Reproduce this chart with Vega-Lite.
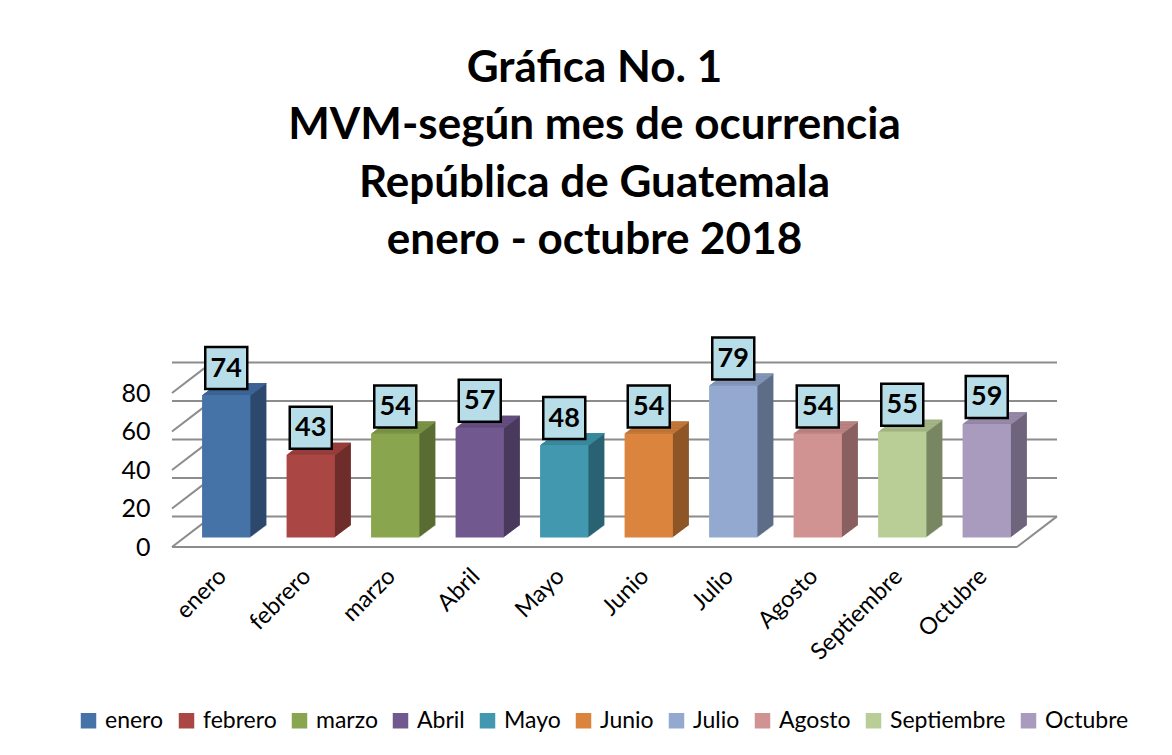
{
"$schema":"https://vega.github.io/schema/vega-lite/v6.json",
"width":845,"height":154,
"autosize":{"type":"none"},
"padding":{"left":172,"top":393,"right":155,"bottom":208},
"background":"white",
"title":{"text":["Gráfica No. 1","MVM-según mes de ocurrencia","República de Guatemala","enero - octubre 2018"],"font":"Lato","fontSize":44,"fontWeight":"bold","color":"black","lineHeight":57.5,"anchor":"middle","offset":69,"dx":0},
"datasets":{
"meses":[{"mes":"enero","valor":74},{"mes":"febrero","valor":43},{"mes":"marzo","valor":54},{"mes":"Abril","valor":57},{"mes":"Mayo","valor":48},{"mes":"Junio","valor":54},{"mes":"Julio","valor":79},{"mes":"Agosto","valor":54},{"mes":"Septiembre","valor":55},{"mes":"Octubre","valor":59}],
"ticks":[{"t":0},{"t":20},{"t":40},{"t":60},{"t":80}]
},
"data":{"name":"meses"},
"resolve":{"scale":{"color":"independent"}},
"layer":[
{"data":{"name":"ticks"},"mark":{"type":"rule","color":"#8C8C8C","strokeWidth":2,"xOffset":40,"x2Offset":40,"yOffset":-30.6},"encoding":{"y":{"field":"t","type":"quantitative","title":null}}},
{"data":{"name":"ticks"},"mark":{"type":"rule","color":"#8C8C8C","strokeWidth":2,"x2Offset":40,"y2Offset":-30.6},"encoding":{"x":{"value":0},"x2":{"value":0},"y":{"field":"t","type":"quantitative","title":null},"y2":{"field":"t"}}},
{"data":{"name":"ticks"},"transform":[{"filter":"datum.t == 0"}],"mark":{"type":"rule","color":"#8C8C8C","strokeWidth":2},"encoding":{"y":{"field":"t","type":"quantitative","title":null}}},
{"data":{"name":"ticks"},"transform":[{"filter":"datum.t == 0"}],"mark":{"type":"rule","color":"#8C8C8C","strokeWidth":2,"x2Offset":40,"y2Offset":-30.6},"encoding":{"x":{"value":"width"},"x2":{"value":"width"},"y":{"field":"t","type":"quantitative","title":null},"y2":{"field":"t"}}},

{"mark":{"type":"bar","xOffset":28,"x2Offset":28,"yOffset":-21.5,"y2Offset":-21.5},"encoding":{"x":{"field":"mes","type":"nominal","sort":null,"title":null,"scale":{"paddingInner":0.428,"paddingOuter":0.214}},"y":{"field":"valor","type":"quantitative","title":null,"scale":{"domain":[0,80],"nice":false}},"color":{"field":"mes","type":"nominal","sort":null,"legend":null,"scale":{"range":["#2D4A6E","#6F2D2B","#5A6D33","#4A3A5E","#2A6473","#8F5628","#5F6E88","#896060","#798662","#6F657C"]}}}},
{"mark":{"type":"bar","xOffset":27,"x2Offset":27,"yOffset":-20.75,"y2Offset":-20.75},"encoding":{"x":{"field":"mes","type":"nominal","sort":null,"title":null},"y":{"field":"valor","type":"quantitative","title":null},"color":{"field":"mes","type":"nominal","sort":null,"legend":null,"scale":{"range":["#2D4A6E","#6F2D2B","#5A6D33","#4A3A5E","#2A6473","#8F5628","#5F6E88","#896060","#798662","#6F657C"]}}}},
{"mark":{"type":"bar","xOffset":26,"x2Offset":26,"yOffset":-20,"y2Offset":-20},"encoding":{"x":{"field":"mes","type":"nominal","sort":null,"title":null},"y":{"field":"valor","type":"quantitative","title":null},"color":{"field":"mes","type":"nominal","sort":null,"legend":null,"scale":{"range":["#2D4A6E","#6F2D2B","#5A6D33","#4A3A5E","#2A6473","#8F5628","#5F6E88","#896060","#798662","#6F657C"]}}}},
{"mark":{"type":"bar","xOffset":25,"x2Offset":25,"yOffset":-19.25,"y2Offset":-19.25},"encoding":{"x":{"field":"mes","type":"nominal","sort":null,"title":null},"y":{"field":"valor","type":"quantitative","title":null},"color":{"field":"mes","type":"nominal","sort":null,"legend":null,"scale":{"range":["#2D4A6E","#6F2D2B","#5A6D33","#4A3A5E","#2A6473","#8F5628","#5F6E88","#896060","#798662","#6F657C"]}}}},
{"mark":{"type":"bar","xOffset":24,"x2Offset":24,"yOffset":-18.5,"y2Offset":-18.5},"encoding":{"x":{"field":"mes","type":"nominal","sort":null,"title":null},"y":{"field":"valor","type":"quantitative","title":null},"color":{"field":"mes","type":"nominal","sort":null,"legend":null,"scale":{"range":["#2D4A6E","#6F2D2B","#5A6D33","#4A3A5E","#2A6473","#8F5628","#5F6E88","#896060","#798662","#6F657C"]}}}},
{"mark":{"type":"bar","xOffset":23,"x2Offset":23,"yOffset":-17.75,"y2Offset":-17.75},"encoding":{"x":{"field":"mes","type":"nominal","sort":null,"title":null},"y":{"field":"valor","type":"quantitative","title":null},"color":{"field":"mes","type":"nominal","sort":null,"legend":null,"scale":{"range":["#2D4A6E","#6F2D2B","#5A6D33","#4A3A5E","#2A6473","#8F5628","#5F6E88","#896060","#798662","#6F657C"]}}}},
{"mark":{"type":"bar","xOffset":22,"x2Offset":22,"yOffset":-17,"y2Offset":-17},"encoding":{"x":{"field":"mes","type":"nominal","sort":null,"title":null},"y":{"field":"valor","type":"quantitative","title":null},"color":{"field":"mes","type":"nominal","sort":null,"legend":null,"scale":{"range":["#2D4A6E","#6F2D2B","#5A6D33","#4A3A5E","#2A6473","#8F5628","#5F6E88","#896060","#798662","#6F657C"]}}}},
{"mark":{"type":"bar","xOffset":21,"x2Offset":21,"yOffset":-16.25,"y2Offset":-16.25},"encoding":{"x":{"field":"mes","type":"nominal","sort":null,"title":null},"y":{"field":"valor","type":"quantitative","title":null},"color":{"field":"mes","type":"nominal","sort":null,"legend":null,"scale":{"range":["#2D4A6E","#6F2D2B","#5A6D33","#4A3A5E","#2A6473","#8F5628","#5F6E88","#896060","#798662","#6F657C"]}}}},
{"mark":{"type":"bar","xOffset":20,"x2Offset":20,"yOffset":-15.5,"y2Offset":-15.5},"encoding":{"x":{"field":"mes","type":"nominal","sort":null,"title":null},"y":{"field":"valor","type":"quantitative","title":null},"color":{"field":"mes","type":"nominal","sort":null,"legend":null,"scale":{"range":["#2D4A6E","#6F2D2B","#5A6D33","#4A3A5E","#2A6473","#8F5628","#5F6E88","#896060","#798662","#6F657C"]}}}},
{"mark":{"type":"bar","xOffset":19,"x2Offset":19,"yOffset":-14.75,"y2Offset":-14.75},"encoding":{"x":{"field":"mes","type":"nominal","sort":null,"title":null},"y":{"field":"valor","type":"quantitative","title":null},"color":{"field":"mes","type":"nominal","sort":null,"legend":null,"scale":{"range":["#2D4A6E","#6F2D2B","#5A6D33","#4A3A5E","#2A6473","#8F5628","#5F6E88","#896060","#798662","#6F657C"]}}}},
{"mark":{"type":"bar","xOffset":18,"x2Offset":18,"yOffset":-14,"y2Offset":-14},"encoding":{"x":{"field":"mes","type":"nominal","sort":null,"title":null},"y":{"field":"valor","type":"quantitative","title":null},"color":{"field":"mes","type":"nominal","sort":null,"legend":null,"scale":{"range":["#2D4A6E","#6F2D2B","#5A6D33","#4A3A5E","#2A6473","#8F5628","#5F6E88","#896060","#798662","#6F657C"]}}}},
{"mark":{"type":"bar","xOffset":17,"x2Offset":17,"yOffset":-13.25,"y2Offset":-13.25},"encoding":{"x":{"field":"mes","type":"nominal","sort":null,"title":null},"y":{"field":"valor","type":"quantitative","title":null},"color":{"field":"mes","type":"nominal","sort":null,"legend":null,"scale":{"range":["#2D4A6E","#6F2D2B","#5A6D33","#4A3A5E","#2A6473","#8F5628","#5F6E88","#896060","#798662","#6F657C"]}}}},
{"mark":{"type":"bar","xOffset":16,"x2Offset":16,"yOffset":-12.5,"y2Offset":-12.5},"encoding":{"x":{"field":"mes","type":"nominal","sort":null,"title":null},"y":{"field":"valor","type":"quantitative","title":null},"color":{"field":"mes","type":"nominal","sort":null,"legend":null,"scale":{"range":["#2D4A6E","#6F2D2B","#5A6D33","#4A3A5E","#2A6473","#8F5628","#5F6E88","#896060","#798662","#6F657C"]}}}},
{"mark":{"type":"bar","xOffset":15,"x2Offset":15,"yOffset":-11.75,"y2Offset":-11.75},"encoding":{"x":{"field":"mes","type":"nominal","sort":null,"title":null},"y":{"field":"valor","type":"quantitative","title":null},"color":{"field":"mes","type":"nominal","sort":null,"legend":null,"scale":{"range":["#2D4A6E","#6F2D2B","#5A6D33","#4A3A5E","#2A6473","#8F5628","#5F6E88","#896060","#798662","#6F657C"]}}}},
{"mark":{"type":"bar","xOffset":14,"x2Offset":14,"yOffset":-11,"y2Offset":-11},"encoding":{"x":{"field":"mes","type":"nominal","sort":null,"title":null},"y":{"field":"valor","type":"quantitative","title":null},"color":{"field":"mes","type":"nominal","sort":null,"legend":null,"scale":{"range":["#2D4A6E","#6F2D2B","#5A6D33","#4A3A5E","#2A6473","#8F5628","#5F6E88","#896060","#798662","#6F657C"]}}}},
{"mark":{"type":"bar","xOffset":13,"x2Offset":13,"yOffset":-10.25,"y2Offset":-10.25},"encoding":{"x":{"field":"mes","type":"nominal","sort":null,"title":null},"y":{"field":"valor","type":"quantitative","title":null},"color":{"field":"mes","type":"nominal","sort":null,"legend":null,"scale":{"range":["#2D4A6E","#6F2D2B","#5A6D33","#4A3A5E","#2A6473","#8F5628","#5F6E88","#896060","#798662","#6F657C"]}}}},

{"mark":{"type":"bar","xOffset":13,"x2Offset":13,"yOffset":-10.25,"y2Offset":-9.2},"encoding":{"x":{"field":"mes","type":"nominal","sort":null,"title":null},"y":{"field":"valor","type":"quantitative","title":null},"y2":{"field":"valor"},"color":{"field":"mes","type":"nominal","sort":null,"legend":null,"scale":{"range":["#3E6699","#9A3F3C","#7B9446","#654F81","#3A889D","#C57737","#8497BA","#BC8483","#A7B987","#988BAA"]}}}},
{"mark":{"type":"bar","xOffset":14,"x2Offset":14,"yOffset":-11,"y2Offset":-9.95},"encoding":{"x":{"field":"mes","type":"nominal","sort":null,"title":null},"y":{"field":"valor","type":"quantitative","title":null},"y2":{"field":"valor"},"color":{"field":"mes","type":"nominal","sort":null,"legend":null,"scale":{"range":["#3E6699","#9A3F3C","#7B9446","#654F81","#3A889D","#C57737","#8497BA","#BC8483","#A7B987","#988BAA"]}}}},
{"mark":{"type":"bar","xOffset":15,"x2Offset":15,"yOffset":-11.75,"y2Offset":-10.7},"encoding":{"x":{"field":"mes","type":"nominal","sort":null,"title":null},"y":{"field":"valor","type":"quantitative","title":null},"y2":{"field":"valor"},"color":{"field":"mes","type":"nominal","sort":null,"legend":null,"scale":{"range":["#3E6699","#9A3F3C","#7B9446","#654F81","#3A889D","#C57737","#8497BA","#BC8483","#A7B987","#988BAA"]}}}},
{"mark":{"type":"bar","xOffset":16,"x2Offset":16,"yOffset":-12.5,"y2Offset":-11.45},"encoding":{"x":{"field":"mes","type":"nominal","sort":null,"title":null},"y":{"field":"valor","type":"quantitative","title":null},"y2":{"field":"valor"},"color":{"field":"mes","type":"nominal","sort":null,"legend":null,"scale":{"range":["#3E6699","#9A3F3C","#7B9446","#654F81","#3A889D","#C57737","#8497BA","#BC8483","#A7B987","#988BAA"]}}}},
{"mark":{"type":"bar","xOffset":17,"x2Offset":17,"yOffset":-13.25,"y2Offset":-12.2},"encoding":{"x":{"field":"mes","type":"nominal","sort":null,"title":null},"y":{"field":"valor","type":"quantitative","title":null},"y2":{"field":"valor"},"color":{"field":"mes","type":"nominal","sort":null,"legend":null,"scale":{"range":["#3E6699","#9A3F3C","#7B9446","#654F81","#3A889D","#C57737","#8497BA","#BC8483","#A7B987","#988BAA"]}}}},
{"mark":{"type":"bar","xOffset":18,"x2Offset":18,"yOffset":-14,"y2Offset":-12.95},"encoding":{"x":{"field":"mes","type":"nominal","sort":null,"title":null},"y":{"field":"valor","type":"quantitative","title":null},"y2":{"field":"valor"},"color":{"field":"mes","type":"nominal","sort":null,"legend":null,"scale":{"range":["#3E6699","#9A3F3C","#7B9446","#654F81","#3A889D","#C57737","#8497BA","#BC8483","#A7B987","#988BAA"]}}}},
{"mark":{"type":"bar","xOffset":19,"x2Offset":19,"yOffset":-14.75,"y2Offset":-13.7},"encoding":{"x":{"field":"mes","type":"nominal","sort":null,"title":null},"y":{"field":"valor","type":"quantitative","title":null},"y2":{"field":"valor"},"color":{"field":"mes","type":"nominal","sort":null,"legend":null,"scale":{"range":["#3E6699","#9A3F3C","#7B9446","#654F81","#3A889D","#C57737","#8497BA","#BC8483","#A7B987","#988BAA"]}}}},
{"mark":{"type":"bar","xOffset":20,"x2Offset":20,"yOffset":-15.5,"y2Offset":-14.45},"encoding":{"x":{"field":"mes","type":"nominal","sort":null,"title":null},"y":{"field":"valor","type":"quantitative","title":null},"y2":{"field":"valor"},"color":{"field":"mes","type":"nominal","sort":null,"legend":null,"scale":{"range":["#3E6699","#9A3F3C","#7B9446","#654F81","#3A889D","#C57737","#8497BA","#BC8483","#A7B987","#988BAA"]}}}},
{"mark":{"type":"bar","xOffset":21,"x2Offset":21,"yOffset":-16.25,"y2Offset":-15.2},"encoding":{"x":{"field":"mes","type":"nominal","sort":null,"title":null},"y":{"field":"valor","type":"quantitative","title":null},"y2":{"field":"valor"},"color":{"field":"mes","type":"nominal","sort":null,"legend":null,"scale":{"range":["#3E6699","#9A3F3C","#7B9446","#654F81","#3A889D","#C57737","#8497BA","#BC8483","#A7B987","#988BAA"]}}}},
{"mark":{"type":"bar","xOffset":22,"x2Offset":22,"yOffset":-17,"y2Offset":-15.95},"encoding":{"x":{"field":"mes","type":"nominal","sort":null,"title":null},"y":{"field":"valor","type":"quantitative","title":null},"y2":{"field":"valor"},"color":{"field":"mes","type":"nominal","sort":null,"legend":null,"scale":{"range":["#3E6699","#9A3F3C","#7B9446","#654F81","#3A889D","#C57737","#8497BA","#BC8483","#A7B987","#988BAA"]}}}},
{"mark":{"type":"bar","xOffset":23,"x2Offset":23,"yOffset":-17.75,"y2Offset":-16.7},"encoding":{"x":{"field":"mes","type":"nominal","sort":null,"title":null},"y":{"field":"valor","type":"quantitative","title":null},"y2":{"field":"valor"},"color":{"field":"mes","type":"nominal","sort":null,"legend":null,"scale":{"range":["#3E6699","#9A3F3C","#7B9446","#654F81","#3A889D","#C57737","#8497BA","#BC8483","#A7B987","#988BAA"]}}}},
{"mark":{"type":"bar","xOffset":24,"x2Offset":24,"yOffset":-18.5,"y2Offset":-17.45},"encoding":{"x":{"field":"mes","type":"nominal","sort":null,"title":null},"y":{"field":"valor","type":"quantitative","title":null},"y2":{"field":"valor"},"color":{"field":"mes","type":"nominal","sort":null,"legend":null,"scale":{"range":["#3E6699","#9A3F3C","#7B9446","#654F81","#3A889D","#C57737","#8497BA","#BC8483","#A7B987","#988BAA"]}}}},
{"mark":{"type":"bar","xOffset":25,"x2Offset":25,"yOffset":-19.25,"y2Offset":-18.2},"encoding":{"x":{"field":"mes","type":"nominal","sort":null,"title":null},"y":{"field":"valor","type":"quantitative","title":null},"y2":{"field":"valor"},"color":{"field":"mes","type":"nominal","sort":null,"legend":null,"scale":{"range":["#3E6699","#9A3F3C","#7B9446","#654F81","#3A889D","#C57737","#8497BA","#BC8483","#A7B987","#988BAA"]}}}},
{"mark":{"type":"bar","xOffset":26,"x2Offset":26,"yOffset":-20,"y2Offset":-18.95},"encoding":{"x":{"field":"mes","type":"nominal","sort":null,"title":null},"y":{"field":"valor","type":"quantitative","title":null},"y2":{"field":"valor"},"color":{"field":"mes","type":"nominal","sort":null,"legend":null,"scale":{"range":["#3E6699","#9A3F3C","#7B9446","#654F81","#3A889D","#C57737","#8497BA","#BC8483","#A7B987","#988BAA"]}}}},
{"mark":{"type":"bar","xOffset":27,"x2Offset":27,"yOffset":-20.75,"y2Offset":-19.7},"encoding":{"x":{"field":"mes","type":"nominal","sort":null,"title":null},"y":{"field":"valor","type":"quantitative","title":null},"y2":{"field":"valor"},"color":{"field":"mes","type":"nominal","sort":null,"legend":null,"scale":{"range":["#3E6699","#9A3F3C","#7B9446","#654F81","#3A889D","#C57737","#8497BA","#BC8483","#A7B987","#988BAA"]}}}},
{"mark":{"type":"bar","xOffset":28,"x2Offset":28,"yOffset":-21.5,"y2Offset":-20.45},"encoding":{"x":{"field":"mes","type":"nominal","sort":null,"title":null},"y":{"field":"valor","type":"quantitative","title":null},"y2":{"field":"valor"},"color":{"field":"mes","type":"nominal","sort":null,"legend":null,"scale":{"range":["#3E6699","#9A3F3C","#7B9446","#654F81","#3A889D","#C57737","#8497BA","#BC8483","#A7B987","#988BAA"]}}}},

{"mark":{"type":"bar","xOffset":12,"x2Offset":12,"yOffset":-9.5,"y2Offset":-9.5},"encoding":{"x":{"field":"mes","type":"nominal","sort":null,"title":null},"y":{"field":"valor","type":"quantitative","title":null},"color":{"field":"mes","type":"nominal","sort":null,"title":null,"scale":{"range":["#4572A7","#AA4643","#89A54E","#71588F","#4198AF","#DB843D","#93A9CF","#D19392","#B9CD96","#A99BBD"]},"legend":{"orient":"none","legendX":-95,"legendY":316,"direction":"horizontal","columns":10,"symbolType":"square","symbolSize":240,"symbolStrokeWidth":0,"labelFont":"Lato","labelFontSize":23,"labelColor":"black","labelOffset":5,"columnPadding":11,"padding":0}}}},

{"mark":{"type":"point","shape":"square","size":1764,"filled":true,"fill":"#B7DEE8","stroke":"black","strokeWidth":2.5,"opacity":1,"xOffset":12,"yOffset":-36.5},"encoding":{"x":{"field":"mes","type":"nominal","sort":null,"title":null},"y":{"field":"valor","type":"quantitative","title":null}}},
{"mark":{"type":"text","font":"Lato","fontSize":27,"fontWeight":"bold","color":"black","align":"center","baseline":"middle","xOffset":12,"yOffset":-36},"encoding":{"x":{"field":"mes","type":"nominal","sort":null,"title":null},"y":{"field":"valor","type":"quantitative","title":null},"text":{"field":"valor","type":"quantitative"}}}
],
"config":{
"view":{"stroke":null},
"axisY":{"domain":false,"ticks":false,"grid":false,"labelFont":"Lato","labelFontSize":25,"labelColor":"black","labelPadding":22,"values":[0,20,40,60,80]},
"axisX":{"domain":false,"ticks":false,"grid":false,"labelFont":"Lato","labelFontSize":23.5,"labelColor":"black","labelAngle":-45,"labelPadding":17}
}
}
